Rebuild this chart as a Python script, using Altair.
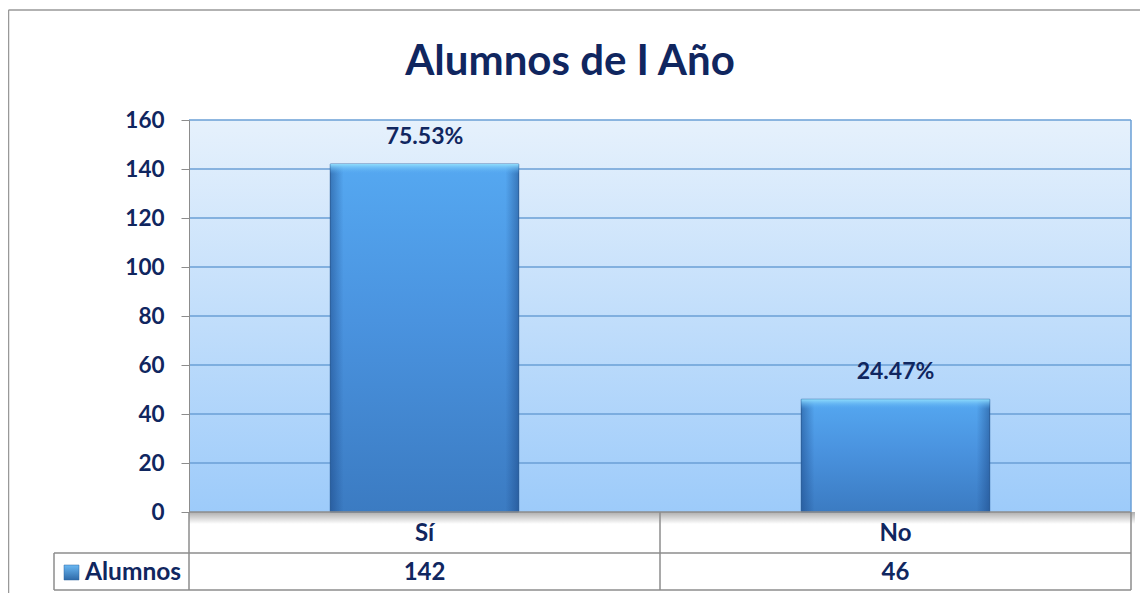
import altair as alt
import pandas as pd

# ---- data ----
categories = ["Sí", "No"]
values = [142, 46]
pct_labels = ["75.53%", "24.47%"]
y_ticks = [0, 20, 40, 60, 80, 100, 120, 140, 160]
series_name = "Alumnos"
title_text = "Alumnos de I Año"

# ---- styling ----
W, H = 942, 392
NAVY = "#10265f"
FONT = "Lato"
GRID = "#6a9fd6"
GRAY = "#8c8c8c"

df = pd.DataFrame({"cat": categories, "value": values, "pct": pct_labels})
grid_df = pd.DataFrame({"v": y_ticks})
one = pd.DataFrame({"k": [0]})

xscale = alt.Scale(domain=categories, paddingInner=0.6, paddingOuter=0.3)
yscale = alt.Scale(domain=[0, 160], nice=False)
X = alt.X("cat:N", scale=xscale, sort=categories, axis=None)
yaxis = alt.Axis(values=y_ticks, labelFont=FONT, labelFontSize=22.5,
                 labelFontWeight="bold", labelColor=NAVY,
                 tickColor=GRAY, tickSize=8, tickWidth=1,
                 domainColor=GRAY, domainWidth=1, grid=False,
                 labelPadding=17, zindex=1, title=None)


def Y(field):
    return alt.Y(field, scale=yscale, title=None, axis=yaxis)


def vgrad(stops):
    return {"gradient": "linear", "x1": 0, "x2": 0, "y1": 0, "y2": 1,
            "stops": [{"offset": o, "color": c} for o, c in stops]}


def hgrad(stops):
    return {"gradient": "linear", "x1": 0, "x2": 1, "y1": 0, "y2": 0,
            "stops": [{"offset": o, "color": c} for o, c in stops]}


def rule(x, x2, y, y2, color, width=1.0):
    return alt.Chart(one).mark_rule(color=color, strokeWidth=width).encode(
        x=alt.value(x), x2=alt.value(x2), y=alt.value(y), y2=alt.value(y2))


# plot-area background
bg = alt.Chart(one).mark_rect(
    fill=vgrad([(0, "#e6f1fc"), (1, "#9dcbfa")])
).encode(x=alt.value(0), x2=alt.value(W), y=alt.value(0), y2=alt.value(H))

# shadow below plot area
shadow = alt.Chart(one).mark_rect(
    fill=vgrad([(0, "#9a9a9a"), (1, "#ffffff")]), opacity=0.8
).encode(x=alt.value(0), x2=alt.value(W + 4), y=alt.value(H), y2=alt.value(H + 12))

# gridlines
grid = alt.Chart(grid_df).transform_filter("datum.v > 0").mark_rule(
    color=GRID, strokeWidth=1.5
).encode(y=Y("v:Q"), x=alt.value(0), x2=alt.value(W))

# bars
bars = alt.Chart(df).mark_bar(
    fill=vgrad([(0, "#55a8f1"), (0.45, "#4a93df"), (1, "#3b7bc2")]),
    stroke="#2f67a3", strokeWidth=1
).encode(x=X, y=Y("value:Q"))

# side shading of bars
sides = alt.Chart(df).mark_bar(
    fill=hgrad([(0, "rgba(20,60,120,0.45)"), (0.07, "rgba(20,60,120,0)"),
                (0.93, "rgba(20,60,120,0)"), (1, "rgba(20,60,120,0.45)")])
).encode(x=X, y=Y("value:Q"))

# top bevel
bevel = alt.Chart(df).transform_calculate(top2="datum.value - 4").mark_bar(
    fill=vgrad([(0, "#8fdcfc"), (1, "rgba(85,168,241,0)")])
).encode(x=X, y=Y("value:Q"), y2="top2:Q")

# percentage labels
pct = alt.Chart(df).mark_text(
    dy=-20, baseline="alphabetic", fontSize=23, fontWeight="bold", font=FONT, color=NAVY
).encode(x=X, y=Y("value:Q"), text="pct:N")

# title
title = alt.Chart(one).mark_text(
    baseline="alphabetic", align="center", fontSize=42, fontWeight="bold", font=FONT, color=NAVY
).encode(x=alt.value(381), y=alt.value(-45), text=alt.value(title_text))

# data table text
cat_txt = alt.Chart(df).mark_text(
    baseline="alphabetic", fontSize=24, fontWeight="bold", font=FONT, color=NAVY
).encode(x=X, y=alt.value(421), text="cat:N")
val_txt = alt.Chart(df).mark_text(
    baseline="alphabetic", fontSize=24, fontWeight="bold", font=FONT, color=NAVY
).encode(x=X, y=alt.value(460), text="value:Q")
series_txt = alt.Chart(one).mark_text(
    baseline="alphabetic", align="left", fontSize=24.5, fontWeight="bold", font=FONT, color=NAVY
).encode(x=alt.value(-104), y=alt.value(460), text=alt.value(series_name))
legend_sq = alt.Chart(one).mark_rect(
    fill=vgrad([(0, "#6ab8f3"), (1, "#2f6aa8")]), stroke="#2f67a3", strokeWidth=0.5
).encode(x=alt.value(-125), x2=alt.value(-110), y=alt.value(445), y2=alt.value(460))

# table / frame lines
lines = [
    rule(0, W, H, H, GRAY, 1.5),            # plot bottom
    rule(W, W, 0, H, GRID, 1.5),            # plot right edge
    rule(-135, W, 433, 433, GRAY, 1.5),     # row separator
    rule(-135, W, 470, 470, GRAY, 1.5),     # table bottom
    rule(0, 0, H, 470, GRAY, 1.5),          # table left
    rule(W / 2, W / 2, H, 470, GRAY, 1.5),  # table middle
    rule(W, W, H, 470, GRAY, 1.5),          # table right
    rule(-135, -135, 433, 470, GRAY, 1.5),  # series cell left
    rule(-180.5, W + 40, -110, -110, "#999999", 1.5),  # outer frame top
    rule(-180.5, -180.5, -110, H + 120, "#999999", 1.5),  # outer frame left
]

chart = alt.layer(
    bg, shadow, grid, bars, sides, bevel, pct, title,
    cat_txt, val_txt, series_txt, legend_sq, *lines
).properties(
    width=W, height=H,
    autosize=alt.AutoSizeParams(type="none"),
    padding={"left": 181, "top": 112, "right": 9, "bottom": 81},
).configure_view(stroke=None)

chart.save("out.html", embed_options={"renderer": "svg", "actions": False})
